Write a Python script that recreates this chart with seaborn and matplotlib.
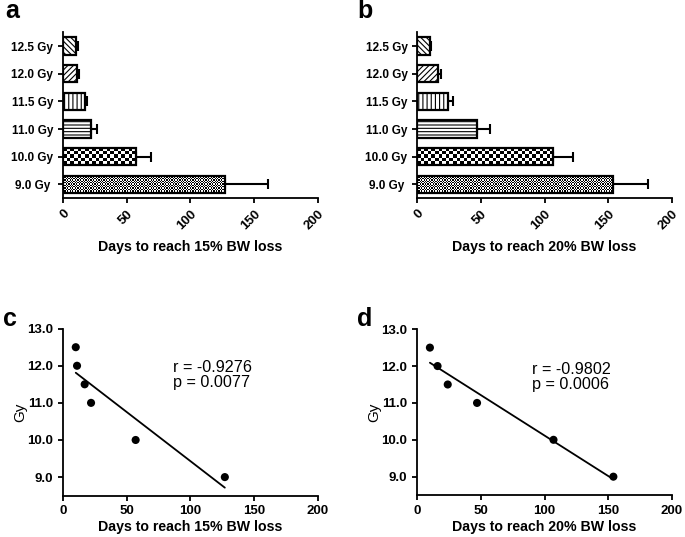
import numpy as np
import matplotlib
matplotlib.use("Agg")
import matplotlib.pyplot as plt
import seaborn as sns

# doses (top to bottom in the bar panels)
dose_labels = ["12.5 Gy", "12.0 Gy", "11.5 Gy", "11.0 Gy", "10.0 Gy", "9.0 Gy "]
gy = [12.5, 12.0, 11.5, 11.0, 10.0, 9.0]

# days to reach 15% BW loss: mean and upper error
days15 = [10, 11, 17, 22, 57, 127]
err15 = [2, 1.5, 2, 5, 12, 34]

# days to reach 20% BW loss: mean and upper error
days20 = [10, 16, 24, 47, 107, 154]
err20 = [1, 3, 4, 10, 15, 27]

stats15 = "r = -0.9276\np = 0.0077"
stats20 = "r = -0.9802\np = 0.0006"

sns.set_style("ticks")
plt.rcParams["font.family"] = ["Liberation Sans", "DejaVu Sans"]
for k in ["text.color", "axes.labelcolor", "xtick.color", "ytick.color", "axes.edgecolor"]:
    plt.rcParams[k] = "black"
plt.rcParams["hatch.linewidth"] = 0.8
plt.rcParams["axes.linewidth"] = 1.3
plt.rcParams["xtick.major.width"] = 1.3
plt.rcParams["ytick.major.width"] = 1.3
plt.rcParams["xtick.major.size"] = 3.5
plt.rcParams["ytick.major.size"] = 3.5

fig = plt.figure(figsize=(6.85, 5.37), dpi=100)
ax_a = fig.add_axes([0.092, 0.631, 0.372, 0.309])
ax_b = fig.add_axes([0.609, 0.631, 0.372, 0.309])
ax_c = fig.add_axes([0.092, 0.077, 0.372, 0.311])
ax_d = fig.add_axes([0.609, 0.078, 0.372, 0.309])

hatches = ["\\\\\\\\\\\\", "//////", "||||", "-----", None, None]


def checker(ax, patch, cell_px):
    # fill a bar with a black/white checkerboard, clipped to the bar
    x0, y0 = patch.get_x(), patch.get_y()
    x1, y1 = x0 + patch.get_width(), y0 + patch.get_height()
    p0 = ax.transData.transform((x0, y0))
    p1 = ax.transData.transform((x1, y1))
    nx = max(1, int(round(abs(p1[0] - p0[0]) / cell_px)))
    ny = max(1, int(round(abs(p1[1] - p0[1]) / cell_px)))
    arr = (np.add.outer(np.arange(ny), np.arange(nx)) % 2).astype(float)
    im = ax.imshow(arr, extent=[x0, x1, y0, y1], cmap="gray", vmin=0, vmax=1,
                   interpolation="nearest", aspect="auto", zorder=patch.get_zorder() - 0.1)
    im.set_clip_path(patch)


def bar_panel(ax, days, err, xlabel):
    sns.barplot(x=days, y=dose_labels, orient="h", ax=ax, color="white",
                edgecolor="black", linewidth=1.6, width=0.62, saturation=1)
    ax.errorbar(days, range(len(days)), xerr=[np.zeros(len(err)), err], fmt="none",
                ecolor="black", elinewidth=1.5, capsize=3.5, capthick=1.5, zorder=1)
    ax.set_xlim(0, 200)
    ax.set_ylim(len(days) - 0.5, -0.5)
    ax.set_xticks([0, 50, 100, 150, 200])
    sns.despine(ax=ax)
    for lab in ax.get_xticklabels():
        lab.set_rotation(45)
        lab.set_ha("right")
        lab.set_rotation_mode("anchor")
        lab.set_fontweight("bold")
        lab.set_fontsize(9.5)
    for lab in ax.get_yticklabels():
        lab.set_fontweight("bold")
        lab.set_fontsize(8.5)
    ax.set_xlabel(xlabel, fontsize=10.2, fontweight="bold", labelpad=6)
    ax.set_ylabel("")
    for patch, h in zip(ax.patches, hatches):
        patch.set_zorder(2)
        if h is not None:
            patch.set_hatch(h)
    checker(ax, ax.patches[4], 3.6)
    ax.patches[4].set_facecolor("none")
    checker(ax, ax.patches[5], 1.3)
    ax.patches[5].set_facecolor("none")
    ax.set_xlim(0, 200)
    ax.set_ylim(len(days) - 0.5, -0.5)


def scatter_panel(ax, days, stats, xlabel, tx, ty):
    sns.regplot(x=days, y=gy, ax=ax, ci=None, color="black",
                scatter_kws=dict(s=34, edgecolor="none", alpha=1),
                line_kws=dict(lw=1.3))
    ax.set_xlim(0, 200)
    ax.set_ylim(8.5, 13.0)
    ax.set_xticks([0, 50, 100, 150, 200])
    ax.set_yticks([9, 10, 11, 12, 13])
    ax.set_yticklabels([f"{v:.1f}" for v in [9, 10, 11, 12, 13]])
    sns.despine(ax=ax)
    for lab in ax.get_xticklabels() + ax.get_yticklabels():
        lab.set_fontweight("bold")
        lab.set_fontsize(9.5)
    ax.set_xlabel(xlabel, fontsize=10.2, fontweight="bold", labelpad=2)
    ax.set_ylabel("Gy", fontsize=11, labelpad=0)
    ax.text(tx, ty, stats, fontsize=11.6, ha="left", va="center", linespacing=1.05)


bar_panel(ax_a, days15, err15, "Days to reach 15% BW loss")
bar_panel(ax_b, days20, err20, "Days to reach 20% BW loss")
scatter_panel(ax_c, days15, stats15, "Days to reach 15% BW loss", 86, 11.75)
scatter_panel(ax_d, days20, stats20, "Days to reach 20% BW loss", 90, 11.7)

for x, y, s in [(0.007, 0.966, "a"), (0.521, 0.966, "b"),
                (0.005, 0.393, "c"), (0.521, 0.393, "d")]:
    fig.text(x, y, s, fontsize=18, fontweight="bold", va="baseline")

fig.savefig("out.png", dpi=100)
